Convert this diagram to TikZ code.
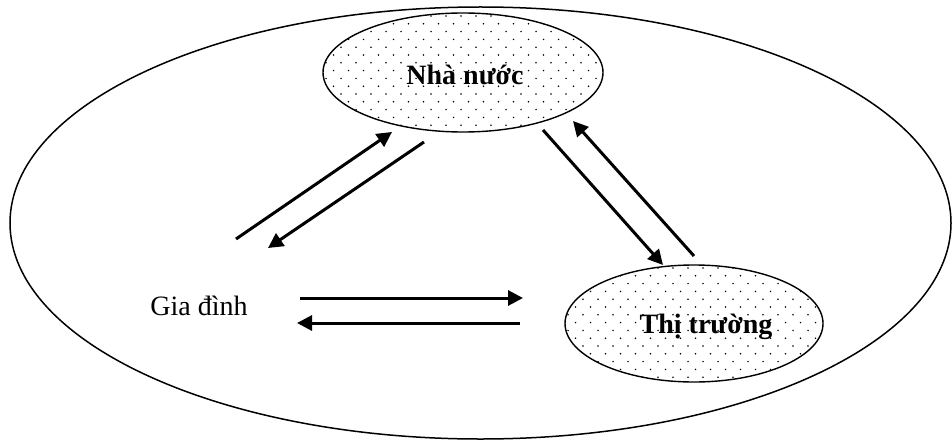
\documentclass[tikz,border=0pt]{standalone}
\usepackage{fontspec}
\setmainfont{Liberation Serif}
\usetikzlibrary{shapes.geometric,arrows.meta,calc}
\begin{document}
\begin{tikzpicture}[x=1pt,y=-1pt,
  arr/.style={line width=3pt,-{Triangle[length=15pt,width=15pt]}},
  lbl/.style={font=\fontsize{28}{32}\selectfont, inner sep=0pt, anchor=base},
  blbl/.style={lbl, font=\fontsize{28}{32}\selectfont\bfseries},
  dotfill/.style={ellipse, draw, line width=1.4pt, inner sep=0pt,
    path picture={
      \foreach \r in {0,...,16}{
        \foreach \c in {0,...,20}{
          \fill ($(path picture bounding box.north west)+({mod(\r,2)*7.5+\c*15+3},{\r*7.8+3})$) circle (0.85pt);
        }
      }
    }},
  bigell/.style={ellipse, draw, line width=1.5pt, inner sep=0pt}
]
\useasboundingbox (0,0) rectangle (952,441);

% outer ellipse
\node[bigell, minimum width=941pt, minimum height=432pt] (outer) at (480.5,223) {};

% inner ellipses
\node[dotfill, minimum width=280pt, minimum height=119pt] (nn) at (463,72.5) {};
\node[dotfill, minimum width=258pt, minimum height=117pt] (tt) at (694,323.5) {};

% labels
\node[blbl] (nnl) at (465,85) {Nhà nước};
\node[blbl] (ttl) at (706,333) {Thị trường};
\node[lbl] (gd) at (199,315) {Gia đình};

% arrow end points
\coordinate (a1s) at (236,239);
\coordinate (a1e) at (392,132);
\coordinate (a2s) at (424,142);
\coordinate (a2e) at (268,248);
\coordinate (a3s) at (543,130);
\coordinate (a3e) at (663,265);
\coordinate (a4s) at (694,256);
\coordinate (a4e) at (573,121);
\coordinate (a5s) at (300,298);
\coordinate (a5e) at (523,298);
\coordinate (a6s) at (520,323);
\coordinate (a6e) at (297,323);

\draw[arr] (a1s) -- (a1e);
\draw[arr] (a2s) -- (a2e);
\draw[arr] (a3s) -- (a3e);
\draw[arr] (a4s) -- (a4e);
\draw[arr] (a5s) -- (a5e);
\draw[arr] (a6s) -- (a6e);
\end{tikzpicture}
\end{document}
